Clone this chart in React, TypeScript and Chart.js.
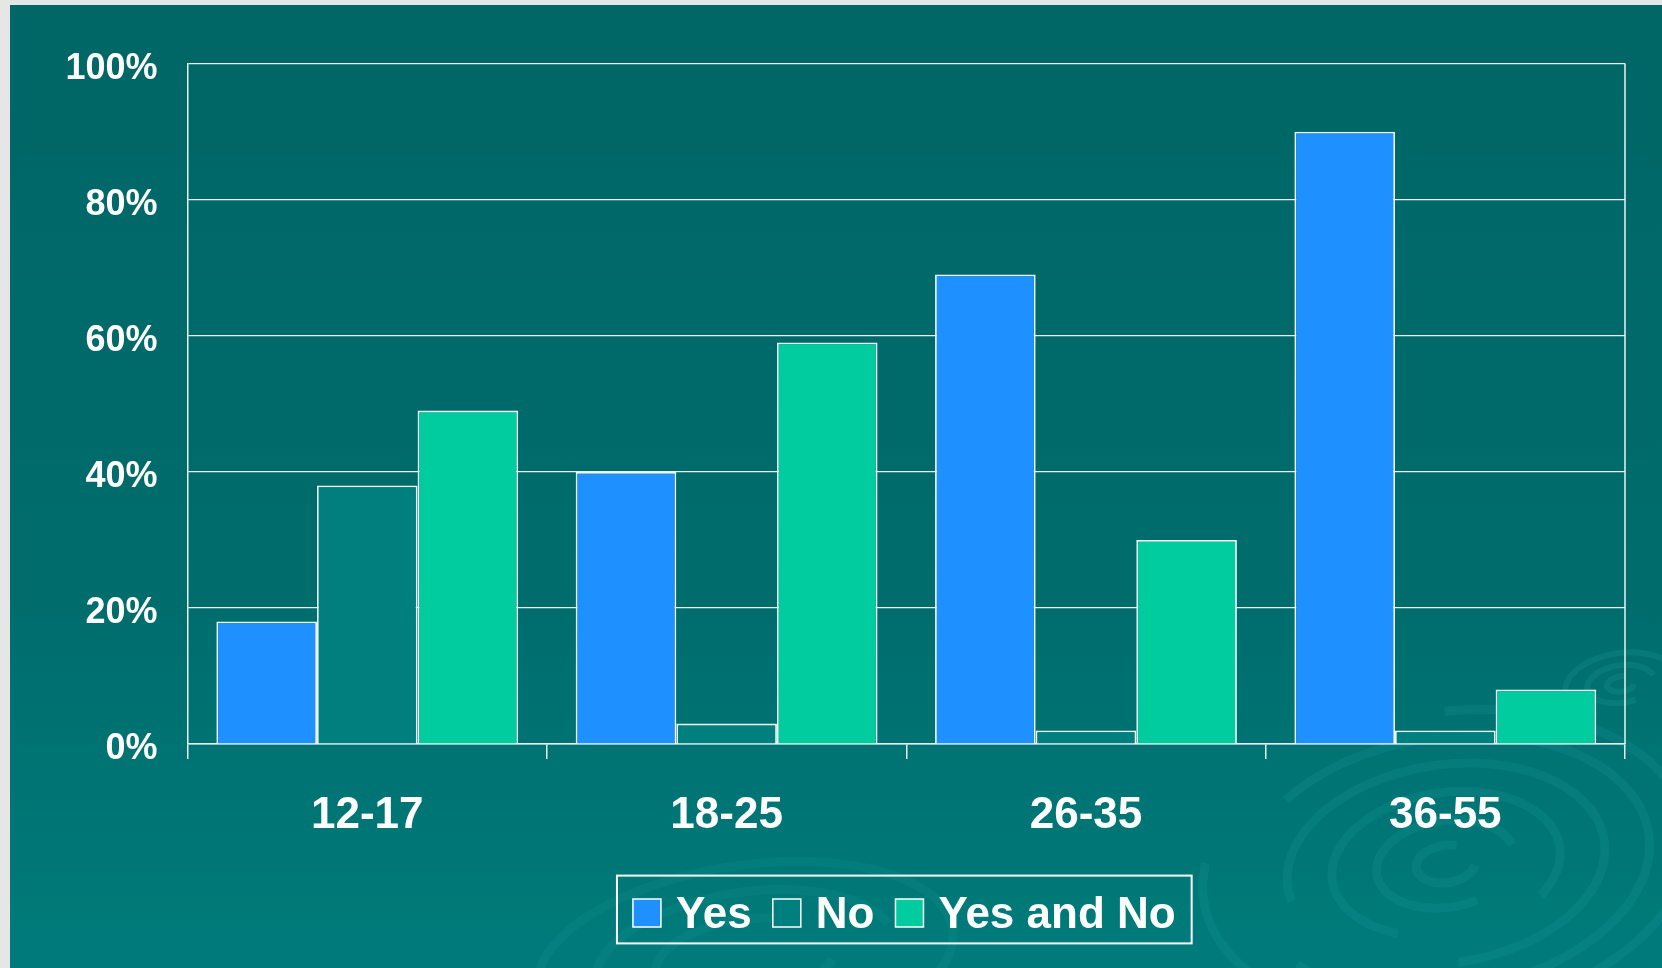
import React, { useEffect, useRef } from "react";
import { Chart, registerables } from "chart.js";

Chart.register(...registerables);

const categories = ["12-17", "18-25", "26-35", "36-55"];
const yesValues = [18, 40, 69, 90];
const noValues = [38, 3, 2, 2];
const yesAndNoValues = [49, 59, 30, 8];
const seriesLabels = ["Yes", "No", "Yes and No"];
const seriesColors = ["#1E90FF", "#007F7F", "#00CC9F"];
const yMin = 0;
const yMax = 100;
const yStep = 20;

const W = 1652;
const H = 963;
const FONT = '"Liberation Sans", Arial, sans-serif';

const bgPlugin = {
  id: "bgPlugin",
  beforeDraw(chart: any) {
    const { ctx, width, height } = chart;
    ctx.save();
    const g = ctx.createLinearGradient(0, 0, 0, height);
    g.addColorStop(0, "#006666");
    g.addColorStop(0.6, "#006c6c");
    g.addColorStop(1, "#007b7b");
    ctx.fillStyle = g;
    ctx.fillRect(0, 0, width, height);

    const rings = (cx: number, cy: number, radii: number[], ratio: number, lw: number, alpha: number) => {
      radii.forEach((r, i) => {
        ctx.beginPath();
        ctx.lineWidth = lw;
        ctx.strokeStyle = `rgba(40,165,165,${alpha})`;
        const start = 0.3 + i * 0.9;
        ctx.ellipse(cx, cy, r, r * ratio, -0.15, start, start + Math.PI * 1.55);
        ctx.stroke();
      });
    };
    rings(1436, 859, [30, 70, 115, 160, 205, 245], 0.62, 9, 0.16);
    rings(1611, 679, [14, 34, 56], 0.55, 6, 0.2);
    rings(735, 955, [90, 150, 210], 0.45, 9, 0.13);
    ctx.restore();
  },
};

const framePlugin = {
  id: "framePlugin",
  beforeDatasetsDraw(chart: any) {
    const { ctx, chartArea } = chart;
    ctx.save();
    ctx.strokeStyle = "#e8f4f4";
    ctx.lineWidth = 1.5;
    ctx.beginPath();
    ctx.moveTo(chartArea.right, chartArea.top);
    ctx.lineTo(chartArea.right, chartArea.bottom);
    ctx.stroke();
    ctx.restore();
  },
};

const legendPlugin = {
  id: "boxLegend",
  afterDraw(chart: any) {
    const ctx = chart.ctx;
    ctx.save();
    ctx.font = `bold 44px ${FONT}`;
    const sw = 28;
    const gapST = 15;
    const gapItem = 21;
    const margin = 16;
    const items = chart.data.datasets.map((ds: any) => ({
      label: ds.label,
      color: ds.backgroundColor,
      w: ctx.measureText(ds.label).width,
    }));
    const inner =
      items.reduce((a: number, it: any) => a + sw + gapST + it.w, 0) +
      gapItem * (items.length - 1);
    const boxW = inner + margin * 2;
    const cx = (chart.chartArea.left + chart.chartArea.right) / 2 - 2;
    const boxL = cx - boxW / 2;
    const boxT = 870.6;
    const boxH = 67.8;
    ctx.strokeStyle = "#ffffff";
    ctx.lineWidth = 2;
    ctx.strokeRect(boxL, boxT, boxW, boxH);
    let x = boxL + margin;
    const cy = boxT + boxH / 2 + 3.5;
    items.forEach((it: any) => {
      ctx.fillStyle = it.color;
      ctx.fillRect(x, cy - 14, sw, sw);
      ctx.strokeStyle = "#ffffff";
      ctx.lineWidth = 1.5;
      ctx.strokeRect(x, cy - 14, sw, sw);
      x += sw + gapST;
      ctx.fillStyle = "#ffffff";
      ctx.textBaseline = "middle";
      ctx.textAlign = "left";
      ctx.fillText(it.label, x, cy + 3);
      x += it.w + gapItem;
    });
    ctx.restore();
  },
};

export default function App() {
  const canvasRef = useRef<HTMLCanvasElement | null>(null);

  useEffect(() => {
    if (!canvasRef.current) return;
    const seriesValues = [yesValues, noValues, yesAndNoValues];
    const chart = new Chart(canvasRef.current, {
      type: "bar",
      data: {
        labels: categories,
        datasets: seriesLabels.map((label, i) => ({
          label,
          data: seriesValues[i],
          backgroundColor: seriesColors[i],
          borderColor: "#f0fafa",
          borderWidth: 1.8,
          categoryPercentage: 0.84,
          barPercentage: 1.0,
        })),
      },
      options: {
        responsive: false,
        animation: false,
        layout: { padding: { top: 58.6, right: 37, left: 0, bottom: 0 } },
        plugins: {
          legend: { display: false },
          tooltip: { enabled: false },
        },
        scales: {
          x: {
            offset: true,
            grid: {
              offset: true,
              drawOnChartArea: false,
              drawTicks: true,
              tickLength: 15,
              color: "#e8f4f4",
              lineWidth: 1.5,
            },
            border: { display: true, color: "#e8f4f4", width: 1.5 },
            ticks: {
              color: "#ffffff",
              font: { size: 44, weight: "bold", family: FONT },
              padding: 30,
              maxRotation: 0,
              autoSkip: false,
            },
            afterFit: (s: any) => {
              s.height = H - 739;
            },
          },
          y: {
            min: yMin,
            max: yMax,
            grid: {
              color: "#e8f4f4",
              lineWidth: 1.2,
              drawTicks: false,
            },
            border: { display: true, color: "#e8f4f4", width: 1.5 },
            ticks: {
              stepSize: yStep,
              color: "#ffffff",
              font: { size: 36, weight: "bold", family: FONT },
              padding: 30,
              labelOffset: 5,
              callback: (v: any) => `${v}%`,
            },
            afterFit: (s: any) => {
              s.width = 177.6;
            },
          },
        },
      },
      plugins: [bgPlugin, framePlugin, legendPlugin],
    });
    return () => chart.destroy();
  }, []);

  return (
    <div
      style={{
        position: "absolute",
        left: 0,
        top: 0,
        width: 1662,
        height: 968,
        background: "#e6e6e6",
        overflow: "hidden",
      }}
    >
      <canvas
        ref={canvasRef}
        width={W}
        height={H}
        style={{ position: "absolute", left: 10, top: 5, width: W, height: H }}
      />
    </div>
  );
}
